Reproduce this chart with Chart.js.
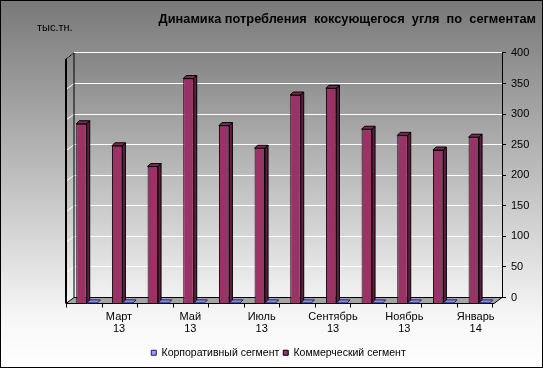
<!DOCTYPE html>
<html>
<head>
<meta charset="utf-8">
<script src="https://cdn.jsdelivr.net/npm/chart.js@4.4.1/dist/chart.umd.min.js"></script>
<style>
  html, body { margin: 0; padding: 0; background: #fff; }
  #wrap { width: 543px; height: 368px; }
</style>
</head>
<body>
<div id="wrap"><canvas id="chart" width="543" height="368"></canvas></div>
<script>
// Chart data
const months = ['Февраль', 'Март', 'Апрель', 'Май', 'Июнь', 'Июль', 'Август', 'Сентябрь', 'Октябрь', 'Ноябрь', 'Декабрь', 'Январь'];
const years = ['13', '13', '13', '13', '13', '13', '13', '13', '13', '13', '13', '14'];
const commercial = [294, 258, 224, 368, 291, 254, 341, 352, 285, 275, 251, 272];
const corporate = [1, 1, 1, 1, 1, 1, 1, 1, 1, 1, 1, 1];
const yTicks = [0, 50, 100, 150, 200, 250, 300, 350, 400];

const titleText = 'Динамика потребления  коксующегося  угля  по  сегментам';
const unitText = 'тыс.тн.';

// 3d look: depth of the walls, shift of the bars from the back wall, depth of a bar
const WALL_DX = 8;
const WALL_DY = 6;
const BAR_SHIFT_X = -5;
const BAR_SHIFT_Y = 6;
const BAR_D = 3;

const faces = [
  { top: '#7d2953', side: '#5e1f3f' },
  { top: '#8c8cf0', side: '#5050a0' },
];

Chart.defaults.font.family = "'Liberation Sans', Arial, sans-serif";
Chart.defaults.color = '#000';

const poly = (ctx, pts, fill) => {
  ctx.beginPath();
  ctx.moveTo(pts[0][0], pts[0][1]);
  pts.slice(1).forEach((p) => ctx.lineTo(p[0], p[1]));
  ctx.closePath();
  ctx.fillStyle = fill;
  ctx.fill();
  ctx.stroke();
};

const excel3d = {
  id: 'excel3d',
  beforeDraw(c) {
    const { ctx, chartArea: a, width, height } = c;
    ctx.save();
    // page background
    const bg = ctx.createLinearGradient(0, 0, 0, height);
    bg.addColorStop(0, '#787878');
    bg.addColorStop(0.86, '#f6f6f6');
    bg.addColorStop(1, '#ffffff');
    ctx.fillStyle = bg;
    ctx.fillRect(0, 0, width, height);
    // back wall + left wall
    const wall = ctx.createLinearGradient(0, a.top, 0, a.bottom);
    wall.addColorStop(0, '#858585');
    wall.addColorStop(1, '#f2f2f2');
    ctx.fillStyle = wall;
    ctx.fillRect(a.left, a.top, a.right - a.left, a.bottom - a.top);
    ctx.beginPath();
    ctx.moveTo(a.left - WALL_DX, a.top + WALL_DY);
    ctx.lineTo(a.left, a.top);
    ctx.lineTo(a.left, a.bottom);
    ctx.lineTo(a.left - WALL_DX, a.bottom + WALL_DY);
    ctx.closePath();
    ctx.fill();
    ctx.restore();
  },
  beforeDatasetsDraw(c) {
    const { ctx, chartArea: a, scales: { y } } = c;
    const fl = a.left - WALL_DX;
    const fb = a.bottom + WALL_DY;
    ctx.save();
    // grid lines on the left wall
    ctx.strokeStyle = '#ffffff';
    ctx.lineWidth = 1;
    yTicks.forEach((v) => {
      const py = y.getPixelForValue(v);
      ctx.beginPath();
      ctx.moveTo(a.left, py);
      ctx.lineTo(fl, py + WALL_DY);
      ctx.stroke();
    });
    // floor
    ctx.strokeStyle = '#000';
    poly(ctx, [[fl, fb], [a.left, a.bottom], [a.right, a.bottom], [a.right - WALL_DX, fb]], '#a3a3a3');
    // wall edges
    ctx.beginPath();
    ctx.moveTo(fl, a.top + WALL_DY);
    ctx.lineTo(a.left, a.top);
    ctx.lineTo(a.left, a.bottom);
    ctx.stroke();
    ctx.lineWidth = 2;
    ctx.beginPath();
    ctx.moveTo(fl, a.top + WALL_DY);
    ctx.lineTo(fl, fb);
    ctx.stroke();
    // category tick marks on the front edge
    ctx.lineWidth = 1;
    const n = months.length;
    const step = (a.right - a.left - 2) / n;
    for (let i = 0; i <= n; i++) {
      const px = Math.round(fl + i * step) + 0.5;
      ctx.beginPath();
      ctx.moveTo(px, fb);
      ctx.lineTo(px, fb + 4);
      ctx.stroke();
    }
    ctx.restore();
    // bars stand on the front part of the floor
    ctx.save();
    ctx.translate(BAR_SHIFT_X, BAR_SHIFT_Y);
  },
  afterDatasetsDraw(c) {
    const { ctx } = c;
    c.data.datasets.forEach((ds, di) => {
      const meta = c.getDatasetMeta(di);
      ctx.lineWidth = 1;
      ctx.strokeStyle = ds.borderColor;
      meta.data.forEach((bar) => {
        const { x, y, base, width } = bar.getProps(['x', 'y', 'base', 'width'], true);
        const l = x - width / 2;
        const r = x + width / 2;
        poly(ctx, [[l, y], [l + BAR_D, y - BAR_D], [r + BAR_D, y - BAR_D], [r, y]], faces[di].top);
        if (base - y > 1) {
          poly(ctx, [[r, y], [r + BAR_D, y - BAR_D], [r + BAR_D, base - BAR_D], [r, base]], faces[di].side);
        }
      });
    });
    ctx.restore();
  },
  afterDraw(c) {
    const { ctx, width, height } = c;
    ctx.save();
    ctx.fillStyle = '#000';
    ctx.font = "11px 'Liberation Sans', Arial, sans-serif";
    ctx.textBaseline = 'middle';
    ctx.fillText(unitText, 37, 28);
    ctx.strokeStyle = '#000';
    ctx.lineWidth = 1;
    ctx.strokeRect(0.5, 0.5, width - 1, height - 1);
    ctx.restore();
  },
};

const ctx = document.getElementById('chart');

const chart = new Chart(ctx, {
  type: 'bar',
  data: {
    labels: months.map((m, i) => `${m} ${years[i]}`),
    datasets: [
      {
        label: 'Коммерческий сегмент',
        data: commercial,
        yAxisID: 'y',
        backgroundColor: '#993366',
        borderColor: '#000000',
        borderWidth: 1,
        categoryPercentage: 0.6,
        barPercentage: 0.98,
      },
      {
        label: 'Корпоративный сегмент',
        data: corporate,
        yAxisID: 'y',
        backgroundColor: '#9999ff',
        borderColor: '#202060',
        borderWidth: 1,
        categoryPercentage: 0.6,
        barPercentage: 0.98,
      },
    ],
  },
  options: {
    responsive: false,
    devicePixelRatio: 1,
    animation: false,
    layout: {
      padding: { left: 21, right: 7, top: 0, bottom: 0 },
    },
    scales: {
      x: {
        grid: { display: false, drawTicks: false },
        border: { display: false },
        ticks: {
          autoSkip: false,
          maxRotation: 0,
          minRotation: 0,
          labelOffset: -8.5,
          padding: 13,
          color: '#000',
          font: { size: 11, lineHeight: 1.1 },
          callback: (v, i) => (i % 2 === 1 ? [months[i], years[i]] : ''),
        },
        afterFit: (s) => { s.height = 46; },
      },
      pad: {
        type: 'linear',
        position: 'left',
        grid: { display: false },
        border: { display: false },
        ticks: { display: false },
        afterFit: (s) => { s.width = 53; },
      },
      y: {
        position: 'right',
        min: 0,
        max: 400,
        afterBuildTicks: (s) => { s.ticks = yTicks.map((v) => ({ value: v })); },
        ticks: { color: '#000', font: { size: 11 }, padding: 5 },
        grid: { color: '#ffffff', lineWidth: 1, tickColor: '#000', tickLength: 4 },
        border: { display: true, color: '#000', width: 1 },
        afterFit: (s) => { s.width = 34; },
      },
    },
    plugins: {
      title: {
        display: true,
        text: titleText,
        align: 'end',
        color: '#000',
        font: { size: 12.8, weight: 'bold' },
        padding: { top: 12, bottom: 25.6 },
      },
      legend: {
        position: 'bottom',
        labels: {
          boxWidth: 5,
          boxHeight: 5,
          padding: 4,
          color: '#000',
          font: { size: 10.5 },
          sort: (a, b) => b.datasetIndex - a.datasetIndex,
        },
      },
      tooltip: { enabled: false },
    },
  },
  plugins: [excel3d],
});
</script>
</body>
</html>
